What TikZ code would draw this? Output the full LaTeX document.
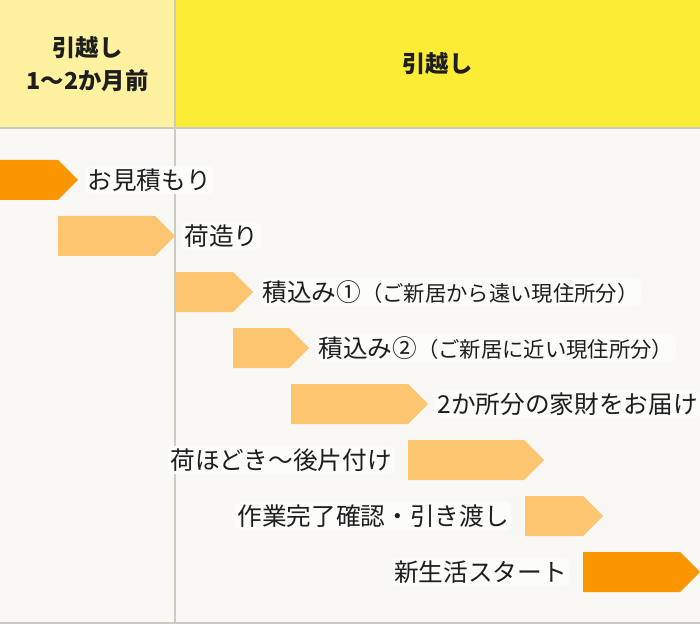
\documentclass[tikz,border=0pt]{standalone}
\usepackage{fontspec}
\setmainfont{Noto Sans CJK JP}
\usetikzlibrary{positioning,shapes.symbols}
\definecolor{bgcol}{HTML}{F9F8F4}
\definecolor{halo}{HTML}{FCFCFA}
\definecolor{paleyellow}{HTML}{FEF2A1}
\definecolor{mainyellow}{HTML}{FDEC35}
\definecolor{gridgray}{HTML}{CDCABF}
\definecolor{darkorange}{HTML}{FA9600}
\definecolor{lightorange}{HTML}{FDC570}
\definecolor{textcol}{HTML}{1E1E1E}

\begin{document}
\begin{tikzpicture}[x=0.75pt,y=0.75pt,
 bar/.style={signal,signal to=east,signal from=nowhere,signal pointer angle=90,
  minimum height=30pt,inner sep=0pt,outer sep=0pt,anchor=west,fill=lightorange},
 lbl/.style={fill=halo,rounded corners=4pt,inner sep=2pt,text=textcol,
  font=\fontsize{18.5pt}{20pt}\selectfont},
 head/.style={align=center,text=textcol,font=\fontsize{17.5pt}{25pt}\selectfont\bfseries},
 grid line/.style={draw=gridgray,line width=1.5pt}]
\useasboundingbox (0,0) rectangle (700,-624);
\fill[bgcol] (0,0) rectangle (700,-624);
%header
  \fill[paleyellow] (0,0) rectangle (175,-128);
  \fill[mainyellow] (175,0) rectangle (700,-128);
  \node[head] (before) at (87.5,-64) {引越し\\1～2か月前};
  \node[head] (moving) at (437.5,-64) {引越し};
  \draw[grid line] (0,-128) -- (700,-128);
  \draw[grid line] (175,0) -- (175,-624);
  \draw[grid line] (0,-623) -- (700,-623);
%1
  \node[bar,fill=darkorange,minimum width=58.5pt] (a1) at (0,-180) {};
  \node[lbl,right=5pt of a1] {お見積もり};
%2
  \node[bar,minimum width=87.75pt] (a2) at (58,-236) {};
  \node[lbl,right=5pt of a2] {荷造り};
%3
  \node[bar,minimum width=57.75pt] (a3) at (176,-292) {};
  \node[lbl,right=5pt of a3] {積込み①{\fontsize{16pt}{18pt}\selectfont （ご新居から遠い現住所分）}};
%4
  \node[bar,minimum width=57pt] (a4) at (233,-348) {};
  \node[lbl,right=5pt of a4] {積込み②{\fontsize{16pt}{18pt}\selectfont （ご新居に近い現住所分）}};
%5
  \node[bar,minimum width=102.75pt] (a5) at (291,-404) {};
  \node[lbl,right=5pt of a5] {2か所分の家財をお届け};
%6
  \node[bar,minimum width=102pt] (a6) at (408,-460) {};
  \node[lbl,left=10pt of a6] {荷ほどき～後片付け};
%7
  \node[bar,minimum width=58.5pt] (a7) at (525,-516) {};
  \node[lbl,left=10pt of a7] {作業完了確認・引き渡し};
%8
  \node[bar,fill=darkorange,minimum width=87.75pt] (a8) at (583,-572) {};
  \node[lbl,left=10pt of a8] {新生活スタート};
\end{tikzpicture}
\end{document}
